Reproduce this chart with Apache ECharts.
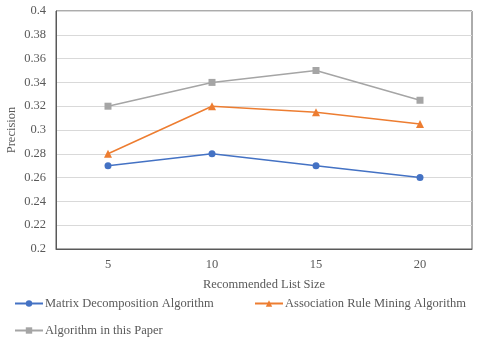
<!DOCTYPE html>
<html lang="en">
<head>
    <meta charset="UTF-8">
    <script src="https://cdn.jsdelivr.net/npm/echarts@6/dist/echarts.min.js"></script>
    <title>Precision by recommended list size</title>
    <style>
        body { margin: 0; background: #fff; }
    </style>
</head>
<body>
    <div id="main" style="width: 480px;height:346px;"></div>
    <script type="text/javascript">
        // chart data
        const listSizes = ['5', '10', '15', '20'];
        const matrixDecomp = [0.27, 0.28, 0.27, 0.26];
        const assocRule = [0.28, 0.32, 0.315, 0.305];
        const thisPaper = [0.32, 0.34, 0.35, 0.325];
        const seriesNames = ['Matrix Decomposition Algorithm', 'Association Rule Mining Algorithm', 'Algorithm in this Paper'];

        const font = '"Liberation Serif", "Times New Roman", serif';
        const textColor = '#595959';
        const fs = 12.5;

        let myChart = echarts.init(document.getElementById('main'));

        function legendAt(name, left, top) {
            return {
                data: [name],
                left: left,
                top: top,
                itemWidth: 28,
                itemHeight: 8,
                itemGap: 4,
                textStyle: { fontFamily: font, fontSize: fs, color: textColor, padding: [0, 0, 0, -3] }
            };
        }

        let options = {
            animation: false,
            grid: {
                left: 56, right: 8, top: 11, bottom: 97,
                outerBoundsMode: 'none',
                show: true, borderColor: '#595959', borderWidth: 1
            },
            legend: [
                legendAt(seriesNames[0], 9, 292),
                legendAt(seriesNames[1], 249, 292),
                legendAt(seriesNames[2], 9, 319)
            ],
            xAxis: {
                type: 'category',
                data: listSizes,
                name: 'Recommended List Size',
                nameLocation: 'middle',
                nameGap: 29,
                nameMoveOverlap: false,
                nameTextStyle: { fontFamily: font, fontSize: fs, color: textColor },
                axisLine: { lineStyle: { color: '#595959' } },
                axisTick: { inside: true, length: 3, lineStyle: { color: '#595959' } },
                axisLabel: { fontFamily: font, fontSize: fs, color: textColor, margin: 9 }
            },
            yAxis: {
                type: 'value',
                min: 0.2,
                max: 0.4,
                interval: 0.02,
                name: 'Precision',
                nameLocation: 'middle',
                nameGap: 38,
                nameMoveOverlap: false,
                nameTextStyle: { fontFamily: font, fontSize: fs, color: textColor },
                axisLine: { show: true, lineStyle: { color: '#595959' } },
                axisTick: { show: false },
                axisLabel: {
                    fontFamily: font, fontSize: fs, color: textColor, margin: 10,
                    formatter: (v) => String(Number(v.toFixed(2)))
                },
                splitLine: { lineStyle: { color: '#d9d9d9', width: 1 } }
            },
            series: [
                {
                    name: seriesNames[0], type: 'line', data: matrixDecomp,
                    symbol: 'circle', symbolSize: 7,
                    itemStyle: { color: '#4472C4' }, lineStyle: { width: 1.5 }
                },
                {
                    name: seriesNames[1], type: 'line', data: assocRule,
                    symbol: 'triangle', symbolSize: 8,
                    itemStyle: { color: '#ED7D31' }, lineStyle: { width: 1.5 }
                },
                {
                    name: seriesNames[2], type: 'line', data: thisPaper,
                    symbol: 'rect', symbolSize: 7,
                    itemStyle: { color: '#A5A5A5' }, lineStyle: { width: 1.5 }
                }
            ]
        };
        myChart.setOption(options);
    </script>
</body>
</html>
